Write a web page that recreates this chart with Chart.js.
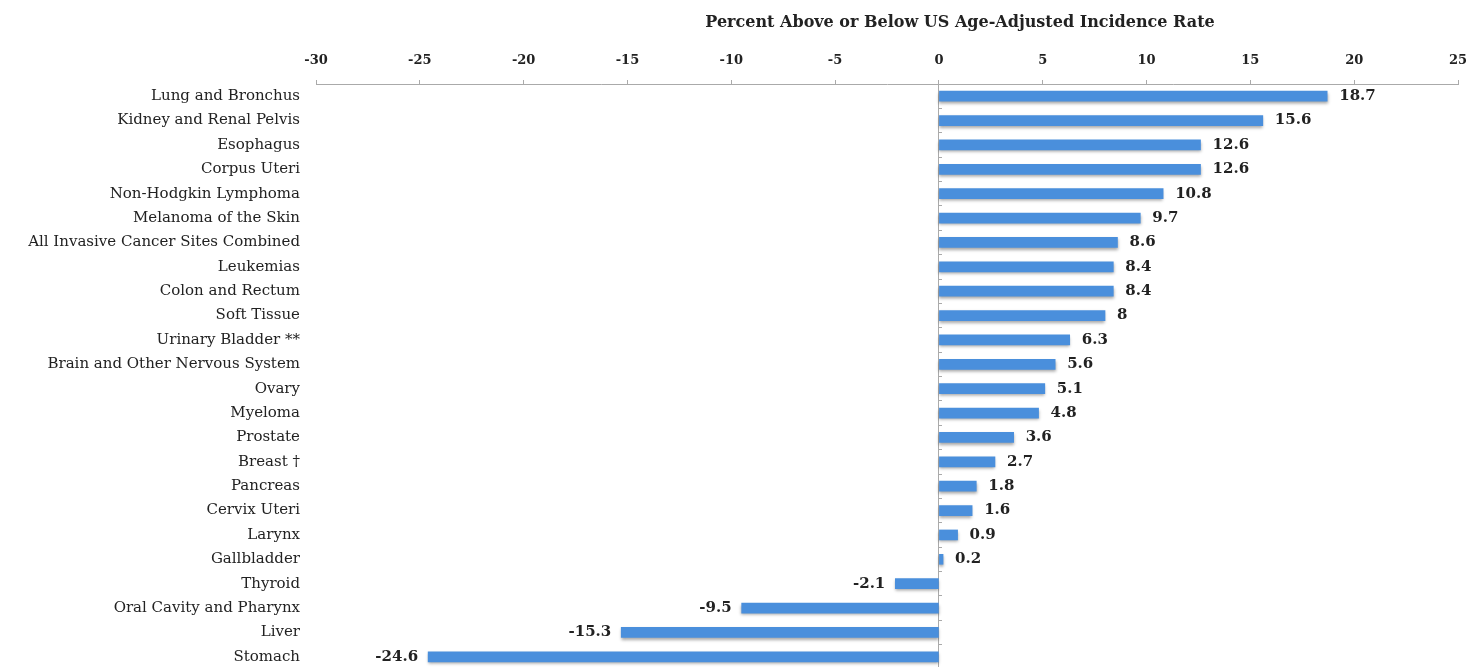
<!DOCTYPE html>
<html lang="en">
<head>
    <meta charset="UTF-8">
    <title>Percent Above or Below US Age-Adjusted Incidence Rate</title>
    <script src="https://cdn.jsdelivr.net/npm/chart.js"></script>
    <style>
        body {
            margin: 0;
            padding: 0;
            background-color: #fff;
            overflow: hidden;
        }
        .title {
            position: absolute;
            top: 12px;
            left: 960px;
            transform: translateX(-50%);
            white-space: nowrap;
            font-family: "DejaVu Serif", serif;
            font-weight: bold;
            font-size: 16px;
            color: #222;
        }
        .wrap {
            position: relative;
            width: 1473px;
            height: 672px;
        }
    </style>
</head>
<body>
    <div class="wrap">
        <canvas id="incidenceChart"></canvas>
    </div>
    <div class="title">Percent Above or Below US Age-Adjusted Incidence Rate</div>

    <script>
        var categories = [
            'Lung and Bronchus', 'Kidney and Renal Pelvis', 'Esophagus', 'Corpus Uteri',
            'Non-Hodgkin Lymphoma', 'Melanoma of the Skin', 'All Invasive Cancer Sites Combined',
            'Leukemias', 'Colon and Rectum', 'Soft Tissue', 'Urinary Bladder **',
            'Brain and Other Nervous System', 'Ovary', 'Myeloma', 'Prostate', 'Breast \u2020',
            'Pancreas', 'Cervix Uteri', 'Larynx', 'Gallbladder', 'Thyroid',
            'Oral Cavity and Pharynx', 'Liver', 'Stomach'
        ];
        var percentDiff = [
            18.7, 15.6, 12.6, 12.6, 10.8, 9.7, 8.6, 8.4, 8.4, 8, 6.3, 5.6,
            5.1, 4.8, 3.6, 2.7, 1.8, 1.6, 0.9, 0.2, -2.1, -9.5, -15.3, -24.6
        ];
        var xMin = -30;
        var xMax = 25;
        var xStep = 5;

        var serif = '"DejaVu Serif", serif';

        // scales should not push the plot area in with their own label padding
        function noPadding(scale) {
            scale.paddingTop = 0;
            scale.paddingBottom = 0;
            scale.paddingLeft = 0;
            scale.paddingRight = 0;
        }

        // soft drop shadow under the bars
        var barShadow = {
            id: 'barShadow',
            beforeDatasetDraw: function(chart) {
                var ctx = chart.ctx;
                ctx.save();
                ctx.shadowColor = 'rgba(0, 0, 0, 0.35)';
                ctx.shadowBlur = 3;
                ctx.shadowOffsetY = 2;
            },
            afterDatasetDraw: function(chart) {
                chart.ctx.restore();
            }
        };

        // value labels at the end of each bar
        var valueLabels = {
            id: 'valueLabels',
            afterDatasetsDraw: function(chart) {
                var ctx = chart.ctx;
                var meta = chart.getDatasetMeta(0);
                var values = chart.data.datasets[0].data;
                ctx.save();
                ctx.font = 'bold 15px ' + serif;
                ctx.fillStyle = '#222';
                ctx.textBaseline = 'middle';
                meta.data.forEach(function(bar, i) {
                    var v = values[i];
                    if (v >= 0) {
                        ctx.textAlign = 'left';
                        ctx.fillText(String(v), bar.x + 12, bar.y);
                    } else {
                        ctx.textAlign = 'right';
                        ctx.fillText(String(v), bar.x - 10, bar.y);
                    }
                });
                ctx.restore();
            }
        };

        var ctx = document.getElementById('incidenceChart').getContext('2d');
        new Chart(ctx, {
            type: 'bar',
            data: {
                labels: categories,
                datasets: [{
                    data: percentDiff,
                    backgroundColor: '#4a8fdc',
                    borderWidth: 0,
                    barThickness: 10,
                    yAxisID: 'y'
                }]
            },
            options: {
                indexAxis: 'y',
                responsive: true,
                maintainAspectRatio: false,
                animation: false,
                layout: {
                    padding: { top: 0, right: 15, bottom: 3, left: 0 }
                },
                plugins: {
                    legend: { display: false },
                    tooltip: { enabled: false }
                },
                scales: {
                    x: {
                        type: 'linear',
                        position: 'top',
                        min: xMin,
                        max: xMax,
                        ticks: {
                            stepSize: xStep,
                            padding: 12,
                            color: '#222',
                            font: { family: serif, size: 13, weight: 'bold' }
                        },
                        grid: {
                            drawOnChartArea: false,
                            tickLength: 4,
                            color: '#aaa'
                        },
                        border: { color: '#aaa' },
                        afterFit: function(scale) {
                            scale.height = 84;
                            noPadding(scale);
                        }
                    },
                    y: {
                        type: 'category',
                        position: 'left',
                        grid: { display: false, drawTicks: false },
                        border: { display: false },
                        ticks: {
                            padding: 16,
                            color: '#222',
                            font: { family: serif, size: 15 }
                        },
                        afterFit: function(scale) {
                            scale.width = 316;
                            noPadding(scale);
                        }
                    },
                    y2: {
                        type: 'category',
                        labels: categories,
                        position: { x: 0 },
                        offset: true,
                        grid: {
                            offset: true,
                            drawOnChartArea: false,
                            tickLength: -4,
                            color: '#aaa'
                        },
                        border: { color: '#aaa' },
                        ticks: { display: false },
                        afterFit: function(scale) {
                            scale.width = 0;
                            noPadding(scale);
                        }
                    }
                }
            },
            plugins: [barShadow, valueLabels]
        });
    </script>
</body>
</html>
